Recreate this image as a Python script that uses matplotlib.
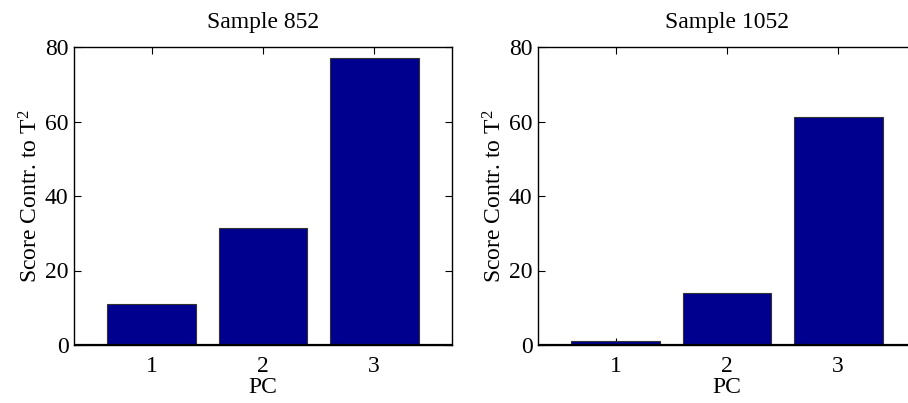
import numpy as np
import matplotlib
matplotlib.use('Agg')
import matplotlib.pyplot as plt

# valores
pcs = [1, 2, 3]
titulos = ['Sample 852', 'Sample 1052']
score_852 = [11.0, 31.3, 77.0]
score_1052 = [1.2, 13.9, 61.1]
yticks = [0, 20, 40, 60, 80]

plt.rcParams['font.family'] = ['Liberation Serif', 'DejaVu Serif']
plt.rcParams['mathtext.fontset'] = 'custom'
plt.rcParams['mathtext.rm'] = 'Liberation Serif'
plt.rcParams['mathtext.it'] = 'Liberation Serif'

color_barra = '#00008F'

fig = plt.figure(figsize=(9.08, 4.03), dpi=100)
ax1 = fig.add_axes([74 / 908, 58 / 403, 378 / 908, 298 / 403])
ax2 = fig.add_axes([538 / 908, 58 / 403, 378 / 908, 298 / 403])

for ax, tit, vals in zip([ax1, ax2], titulos, [score_852, score_1052]):
    ax.bar(pcs, vals, width=0.8, color=color_barra, edgecolor='#333333', linewidth=0.8, zorder=2)
    ax.axhline(0, color='k', lw=1.6, zorder=3)
    ax.set_xlim(0.3, 3.7)
    ax.set_ylim(0, 80)
    ax.set_xticks(pcs)
    ax.set_yticks(yticks)
    ax.tick_params(direction='in', length=5, width=0.8, top=True, right=True,
                   labelsize=17)
    ax.tick_params(axis='x', pad=8)
    ax.tick_params(axis='y', pad=4)
    for s in ax.spines.values():
        s.set_linewidth(1.0)
    ax.set_title(tit, fontsize=17, pad=14)
    ax.set_xlabel('PC', fontsize=17, labelpad=0)
    ax.set_ylabel('Score Contr. to T$^2$', fontsize=17, labelpad=2)

fig.savefig('out.png', dpi=100)
